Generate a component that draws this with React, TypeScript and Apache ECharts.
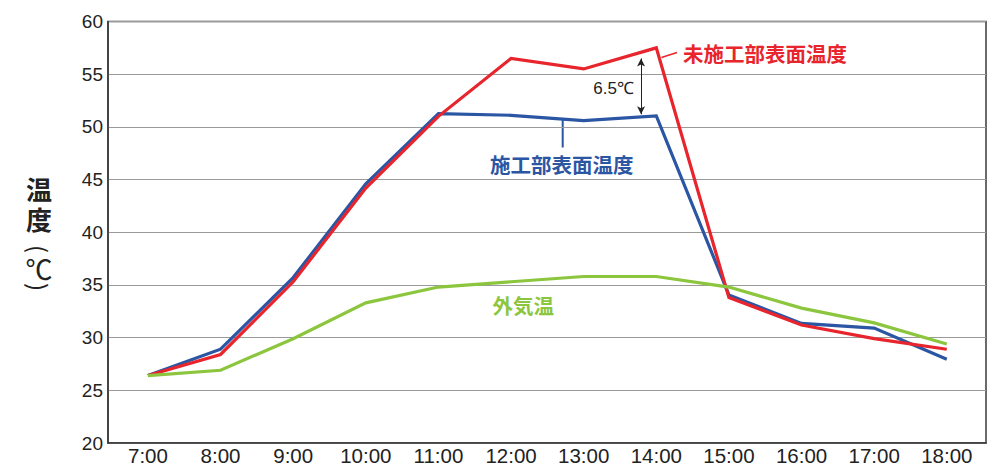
import React, { useEffect, useRef } from "react";
import * as echarts from "echarts";

const categories = ["7:00", "8:00", "9:00", "10:00", "11:00", "12:00", "13:00", "14:00", "15:00", "16:00", "17:00", "18:00"];
const untreatedSurface = [26.4, 28.4, 35.3, 44.2, 51.0, 56.5, 55.5, 57.5, 33.8, 31.2, 29.9, 28.9];
const treatedSurface = [26.4, 28.9, 35.7, 44.6, 51.25, 51.1, 50.6, 51.05, 34.05, 31.35, 30.9, 27.95];
const outsideAir = [26.4, 26.9, 29.9, 33.3, 34.8, 35.3, 35.8, 35.8, 34.8, 32.8, 31.4, 29.4];
const yMin = 20;
const yMax = 60;
const yStep = 5;
const seriesNames = ["施工部表面温度", "未施工部表面温度", "外気温"];
const diffLabel = "6.5℃";
const diffArrow = { x: 6.79, from: 56.5, to: 51.2 };

const RED = "#e8242c";
const BLUE = "#2b56a4";
const GREEN = "#8cc63e";
const JP = '"Noto Sans CJK JP", "Noto Sans", sans-serif';
const TITLE = '"Liberation Sans", "Noto Sans CJK JP", sans-serif';
const NUM = '"Liberation Sans", Arial, Helvetica, sans-serif';

const toPairs = (arr: number[]) => arr.map((v, i) => [i, v]);

export default function App() {
  const ref = useRef<HTMLDivElement>(null);
  useEffect(() => {
    if (!ref.current) return;
    const chart = echarts.init(ref.current, null, { renderer: "svg" });
    const lineSeries = (name: string, data: number[], color: string, z: number, extra: any = {}) => ({
      type: "line",
      name,
      data: toPairs(data),
      showSymbol: false,
      symbol: "none",
      z,
      lineStyle: { color, width: 3.2, join: "miter" },
      itemStyle: { color },
      ...extra,
    });
    chart.setOption({
      animation: false,
      backgroundColor: "#fff",
      grid: {
        left: 108,
        right: 15,
        top: 21.5,
        bottom: 22.8,
        show: true,
        borderColor: "#3a3a3a",
        borderWidth: 1.5,
      },
      xAxis: {
        type: "value",
        min: -0.55,
        max: 11.54,
        splitLine: { show: false },
        axisTick: { show: false },
        axisLine: { show: true, onZero: false, lineStyle: { color: "#3a3a3a", width: 1.5 } },
        axisLabel: {
          customValues: categories.map((_, i) => i),
          formatter: (v: number) => categories[Math.round(v)] ?? "",
          fontFamily: NUM,
          fontSize: 20.5,
          color: "#222",
          margin: 2,
        },
      },
      yAxis: {
        type: "value",
        min: yMin,
        max: yMax,
        interval: yStep,
        axisTick: { show: false },
        axisLine: { show: true, onZero: false, lineStyle: { color: "#3a3a3a", width: 1.5 } },
        splitLine: { show: true, lineStyle: { color: "#9a9a9a", width: 1.2 } },
        axisLabel: { fontFamily: NUM, fontSize: 19, color: "#222", margin: 5 },
      },
      series: [
        lineSeries(seriesNames[0], treatedSurface, BLUE, 2),
        lineSeries(seriesNames[1], untreatedSurface, RED, 3, {
          markLine: {
            silent: true,
            symbol: ["arrow", "arrow"],
            symbolSize: [6, 8],
            label: { show: false },
            lineStyle: { color: "#222", width: 1, type: "solid" },
            data: [[{ coord: [diffArrow.x, diffArrow.from] }, { coord: [diffArrow.x, diffArrow.to] }]],
          },
        }),
        lineSeries(seriesNames[2], outsideAir, GREEN, 4),
      ],
      graphic: [
        { type: "text", x: 683, y: 53, style: { text: seriesNames[1], fill: RED, font: `bold 20.5px ${JP}`, textAlign: "left", textVerticalAlign: "middle" } },
        { type: "line", shape: { x1: 661.5, y1: 57.5, x2: 677, y2: 52.5 }, style: { stroke: RED, lineWidth: 1.6 } },
        { type: "text", x: 490, y: 163.5, style: { text: seriesNames[0], fill: BLUE, font: `bold 20.5px ${JP}`, textAlign: "left", textVerticalAlign: "middle" } },
        { type: "line", shape: { x1: 562.7, y1: 119, x2: 562.7, y2: 147.5 }, style: { stroke: BLUE, lineWidth: 2 } },
        { type: "text", x: 492.5, y: 305, style: { text: seriesNames[2], fill: GREEN, font: `bold 20.5px ${JP}`, textAlign: "left", textVerticalAlign: "middle" } },
        { type: "text", x: 634, y: 88.5, style: { text: diffLabel, fill: "#222", font: `17px ${NUM}`, textAlign: "right", textVerticalAlign: "middle" } },
        { type: "text", x: 39, y: 190.5, style: { text: "温", fill: "#222", font: `bold 26px ${TITLE}`, textAlign: "center", textVerticalAlign: "middle" } },
        { type: "text", x: 39, y: 220.5, style: { text: "度", fill: "#222", font: `bold 26px ${TITLE}`, textAlign: "center", textVerticalAlign: "middle" } },
        { type: "text", x: 39, y: 249, rotation: -Math.PI / 2, style: { text: "(", fill: "#222", font: `24px ${JP}`, textAlign: "center", textVerticalAlign: "middle" } },
        { type: "text", x: 39, y: 268, style: { text: "℃", fill: "#222", font: `27px ${JP}`, textAlign: "center", textVerticalAlign: "middle" } },
        { type: "text", x: 39, y: 287, rotation: -Math.PI / 2, style: { text: ")", fill: "#222", font: `24px ${JP}`, textAlign: "center", textVerticalAlign: "middle" } },
      ],
    });
    return () => chart.dispose();
  }, []);
  return <div ref={ref} style={{ position: "fixed", left: 0, top: 0, width: 1001, height: 466 }} />;
}
